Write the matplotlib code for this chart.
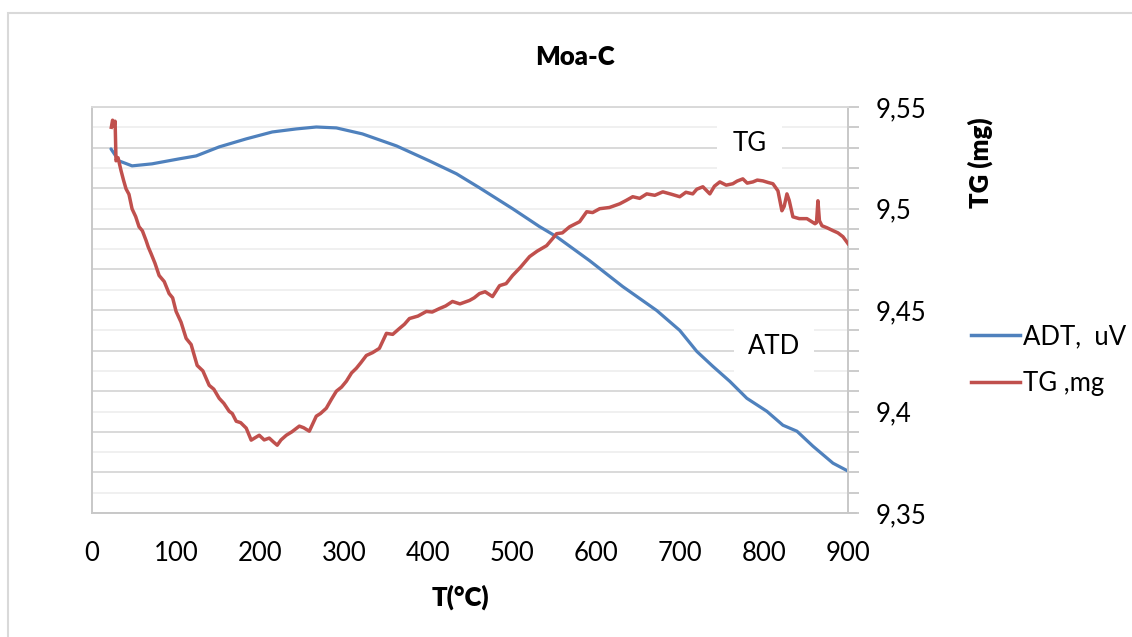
import matplotlib
matplotlib.use('Agg')
from matplotlib import pyplot as plt
from matplotlib.patches import Rectangle
from matplotlib.lines import Line2D
import numpy as np

plt.rcParams['font.family'] = ['Lato', 'DejaVu Sans']

# ADT curve (hidden primary axis, uV)
adt_t = [22.6, 32.2, 47.7, 71.5, 103.7, 124.0, 151.4, 183.6, 214.6, 243.2, 267.0,
         290.9, 321.9, 362.4, 401.7, 433.9, 461.3, 500.7, 532.9, 553.1, 592.4,
         631.8, 672.3, 699.7, 720.0, 739.1, 759.3, 779.6, 803.4, 822.5, 839.2,
         858.3, 882.1, 900.0]
adt_v = [15.87, 14.69, 14.20, 14.40, 14.89, 15.18, 16.07, 16.86, 17.54, 17.84, 18.03,
         17.94, 17.35, 16.17, 14.69, 13.42, 12.04, 9.98, 8.21, 7.22, 4.86,
         2.31, -0.05, -2.01, -4.08, -5.55, -7.03, -8.70, -9.98, -11.35, -11.94,
         -13.42, -15.09, -15.87]

# TG curve (mg)
tg_t = [23.0, 24.5, 26.0, 27.5, 28.6, 31.0, 34.6, 37.5, 40.5, 44.0, 47.7, 52.0, 56.0,
        60.0, 64.4, 67.0, 70.3, 75.0, 79.9, 86.0, 91.8, 96.0, 100.1, 106.0, 112.1,
        118.0, 125.2, 132.0, 139.5, 145.0, 151.4, 157.0, 163.3, 167.0, 171.7, 177.0,
        183.6, 189.5, 194.0, 199.1, 205.0, 211.0, 216.0, 220.5, 225.0, 231.3, 238.0,
        246.8, 252.0, 258.7, 267.0, 272.0, 278.9, 285.0, 290.9, 297.0, 302.8, 309.0,
        314.7, 320.0, 326.6, 334.0, 342.1, 350.5, 358.0, 366.0, 372.0, 377.9, 388.0,
        398.1, 405.0, 413.6, 421.0, 429.1, 438.0, 449.4, 455.0, 461.3, 468.0, 476.8,
        485.2, 493.0, 500.7, 510.0, 520.9, 530.0, 541.2, 548.0, 553.1, 560.0, 568.6,
        580.5, 588.9, 596.0, 604.4, 616.0, 628.2, 636.0, 643.7, 652.0, 660.4, 670.0,
        679.5, 690.0, 699.7, 707.0, 715.2, 720.0, 727.2, 735.5, 741.0, 747.4, 755.0,
        762.9, 768.0, 774.8, 780.0, 786.8, 792.0, 798.7, 805.0, 810.6, 816.6, 821.3,
        824.0, 827.3, 830.0, 834.4, 842.0, 851.1, 860.7, 862.5, 864.2, 866.0, 869.0,
        875.0, 882.1, 888.0, 894.0, 900.0]
tg_v = [9.5400, 9.5435, 9.5405, 9.5430, 9.5235, 9.5250, 9.5186, 9.5140, 9.5097, 9.5070,
        9.4998, 9.4960, 9.4910, 9.4890, 9.4842, 9.4810, 9.4778, 9.4730, 9.4670, 9.4640,
        9.4581, 9.4560, 9.4493, 9.4440, 9.4360, 9.4330, 9.4227, 9.4200, 9.4129, 9.4110,
        9.4065, 9.4040, 9.4001, 9.3990, 9.3952, 9.3945, 9.3918, 9.3859, 9.3870, 9.3883,
        9.3860, 9.3869, 9.3850, 9.3834, 9.3860, 9.3883, 9.3900, 9.3928, 9.3920, 9.3903,
        9.3977, 9.3990, 9.4016, 9.4060, 9.4100, 9.4120, 9.4149, 9.4190, 9.4213, 9.4240,
        9.4276, 9.4290, 9.4311, 9.4385, 9.4380, 9.4409, 9.4430, 9.4458, 9.4470, 9.4493,
        9.4490, 9.4507, 9.4520, 9.4542, 9.4530, 9.4547, 9.4560, 9.4581, 9.4590, 9.4566,
        9.4620, 9.4630, 9.4670, 9.4710, 9.4763, 9.4790, 9.4817, 9.4850, 9.4876, 9.4880,
        9.4910, 9.4935, 9.4984, 9.4980, 9.4999, 9.5005, 9.5023, 9.5040, 9.5058, 9.5050,
        9.5072, 9.5065, 9.5082, 9.5070, 9.5058, 9.5080, 9.5072, 9.5095, 9.5107, 9.5072,
        9.5110, 9.5131, 9.5115, 9.5122, 9.5135, 9.5146, 9.5125, 9.5131, 9.5140, 9.5136,
        9.5128, 9.5122, 9.5087, 9.4989, 9.5010, 9.5072, 9.5040, 9.4959, 9.4950, 9.4950,
        9.4925, 9.4930, 9.5038, 9.4940, 9.4915, 9.4905, 9.4891, 9.4880, 9.4861, 9.4827]

x_ticks = [0, 100, 200, 300, 400, 500, 600, 700, 800, 900]
tg_ticks = [9.35, 9.4, 9.45, 9.5, 9.55]
tg_tick_labels = ['9,35', '9,4', '9,45', '9,5', '9,55']

blue = '#4F81BD'
red = '#C0504D'
fs = 18.5

fig = plt.figure(figsize=(11.32, 6.37), dpi=100)
ax = fig.add_axes([92 / 1132, 1 - 513 / 637, (848 - 92) / 1132, (513 - 107) / 637])
ax2 = ax.twinx()

# ADT on hidden primary axis
ax.plot(adt_t, adt_v, color=blue, lw=2.3, solid_capstyle='round', zorder=3)
ax.set_xlim(0, 900)
ax.set_ylim(-20, 20)
ax.set_yticks(np.arange(-20, 21, 4))
ax.set_yticks(np.arange(-18, 19, 4), minor=True)
ax.grid(True, axis='y', which='major', color='#d9d9d9', lw=1.4, zorder=0)
ax.grid(True, axis='y', which='minor', color='#f0f0f0', lw=1.4, zorder=0)
ax.tick_params(axis='y', which='both', length=0, labelleft=False)
ax.set_xticks(x_ticks)
ax.tick_params(axis='x', length=0, labelsize=fs, pad=20)
for s in ['top', 'right']:
    ax.spines[s].set_visible(False)
ax.spines['left'].set_color('#c8c8c8')
ax.spines['left'].set_linewidth(1.4)
ax.spines['bottom'].set_visible(False)

# TG on secondary axis
ax2.plot(tg_t, tg_v, color=red, lw=2.5, zorder=3)
ax2.set_ylim(9.35, 9.55)
ax2.set_yticks(tg_ticks)
ax2.set_yticklabels(tg_tick_labels)
ax2.set_yticks(np.arange(9.35, 9.555, 0.01), minor=True)
ax2.tick_params(axis='y', which='both', direction='out', length=8, width=1.3,
                color='#c8c8c8', labelsize=fs, pad=12)
ax2.spines['left'].set_visible(False)
ax2.spines['right'].set_color('#c8c8c8')
ax2.spines['right'].set_linewidth(1.4)
ax2.spines['bottom'].set_color('#c8c8c8')
ax2.spines['bottom'].set_linewidth(1.4)
ax2.spines['bottom'].set_bounds(0, 910)
ax2.spines['top'].set_color('#d9d9d9')
ax2.spines['top'].set_linewidth(1.4)

# data labels
ax2.text(783, 9.5318, 'TG', fontsize=fs, ha='center', va='center', zorder=1,
         bbox=dict(boxstyle='square,pad=0.6', fc='white', ec='none'))
ax2.text(812, 9.4321, 'ATD', fontsize=fs, ha='center', va='center', zorder=1,
         bbox=dict(boxstyle='square,pad=0.55', fc='white', ec='none'))

fig.text(575 / 1132, 1 - 57 / 637, 'Moa-C', fontsize=fs, fontweight='heavy',
         ha='center', va='center')
fig.text(460 / 1132, 1 - 597 / 637, 'T(°C)', fontsize=fs, fontweight='heavy',
         ha='center', va='center')
fig.text(980 / 1132, 1 - 163 / 637, 'TG (mg)', fontsize=fs, fontweight='heavy',
         ha='center', va='center', rotation=90)

handles = [Line2D([], [], color=blue, lw=2.5), Line2D([], [], color=red, lw=2.5)]
fig.legend(handles, ['ADT,  uV', 'TG ,mg'], loc='center left',
           bbox_to_anchor=(948 / 1132, 1 - 360 / 637), frameon=False, fontsize=fs,
           handlelength=1.9, handletextpad=0.1, labelspacing=0.85)

fig.add_artist(Rectangle((8 / 1132, -0.1), 1.2, 1.1 - 13 / 637,
                         transform=fig.transFigure, fill=False, ec='#d9d9d9', lw=1.5))

plt.savefig('out.png', dpi=100)
plt.close()
